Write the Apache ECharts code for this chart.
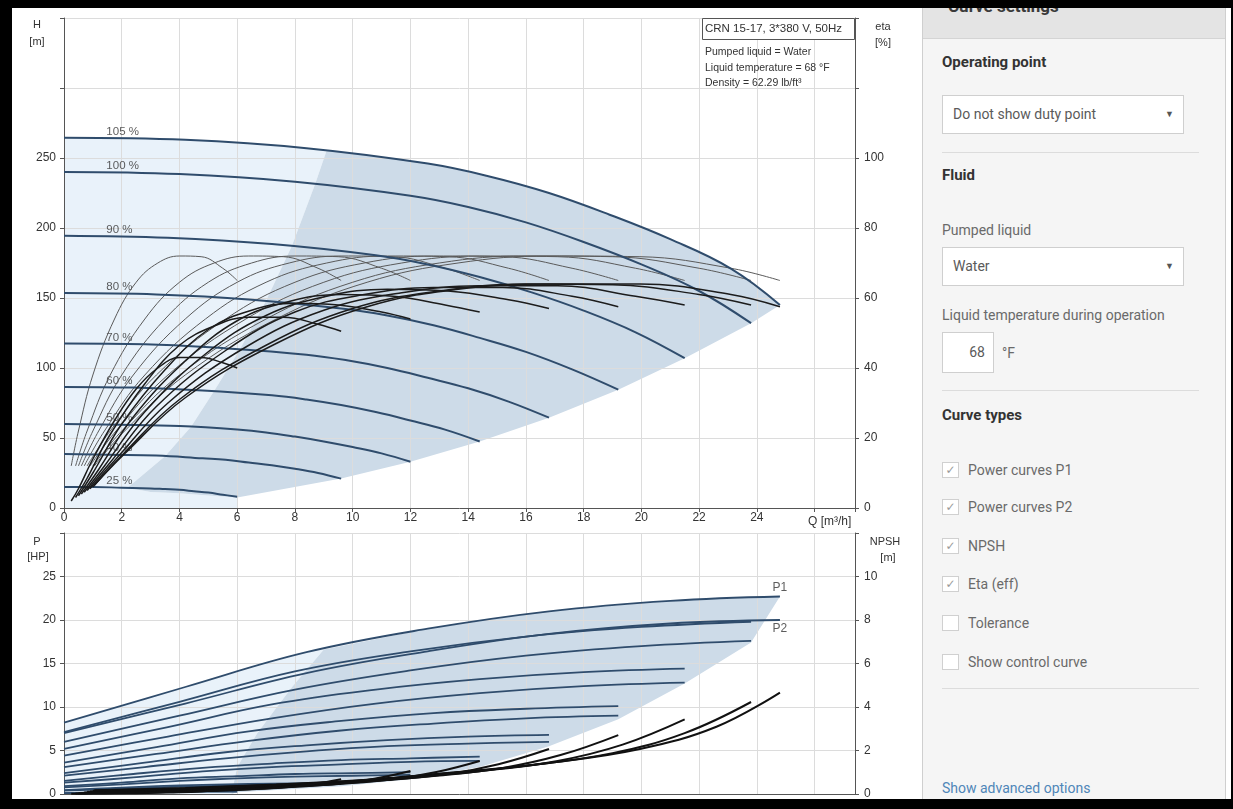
<!DOCTYPE html>
<html>
<head>
<meta charset="utf-8">
<title>CRN 15-17 pump curves</title>
<script src="https://cdn.jsdelivr.net/npm/echarts/dist/echarts.min.js"></script>
<style>
  html, body { margin: 0; padding: 0; background: #000; width: 1233px; height: 809px; overflow: hidden; }
  #page { position: absolute; left: 12px; top: 8px; width: 1219px; height: 791px; background: #fff; overflow: hidden; }
  #chart { position: absolute; left: 0; top: 0; width: 920px; height: 809px; }
  #panel { position: absolute; left: 910px; top: 0; width: 302px; height: 791px; background: #f5f5f5;
           border-left: 1px solid #cfcfcf; border-right: 1px solid #cfcfcf; font-family: Roboto, "Liberation Sans", Arial, sans-serif; }
  #panel .abs { position: absolute; white-space: nowrap; }
  .head { position: absolute; left: 0; top: 0; width: 302px; height: 30px; background: #e4e4e4; border-bottom: 1px solid #d4d4d4; }
  .title { font-size: 17px; font-weight: bold; color: #3a3a3a; line-height: 20px; }
  .h { font-size: 15px; font-weight: bold; color: #333; line-height: 20px; left: 19px; }
  .lbl { font-size: 14px; color: #6a6a6a; line-height: 20px; left: 19px; }
  .sel { left: 19px; width: 242px; height: 39px; box-sizing: border-box; border: 1px solid #cfcfcf; background: #fff;
         font-size: 14px; color: #5a5a5a; line-height: 37px; padding-left: 10px; }
  .sel .arr { position: absolute; right: 9px; top: 0; font-size: 9px; color: #555; }
  .rule { left: 19px; width: 257px; height: 1px; background: #dcdcdc; }
  .box { left: 19px; width: 17px; height: 16px; box-sizing: border-box; border: 1px solid #d0d0d0; background: #fff;
         font-size: 12px; color: #9a9a9a; line-height: 14px; text-align: center; font-family: "DejaVu Sans", sans-serif; }
  .cb { left: 45px; font-size: 14px; color: #6a6a6a; line-height: 20px; }
</style>
</head>
<body>
<div id="page">
  <div id="panel">
    <div class="head"></div>
    <div class="abs title" style="left:25px; top:-12px;">Curve settings</div>

    <div class="abs h" style="top:44px;">Operating point</div>
    <div class="abs sel" style="top:87px;">Do not show duty point<span class="arr">&#9660;</span></div>
    <div class="abs rule" style="top:144px;"></div>

    <div class="abs h" style="top:157px;">Fluid</div>
    <div class="abs lbl" style="top:212px;">Pumped liquid</div>
    <div class="abs sel" style="top:239px;">Water<span class="arr">&#9660;</span></div>
    <div class="abs lbl" style="top:297px;">Liquid temperature during operation</div>
    <div class="abs" style="left:19px; top:324px; width:52px; height:41px; box-sizing:border-box; border:1px solid #cfcfcf; background:#fff; font-size:14px; color:#5a5a5a; line-height:39px; text-align:right; padding-right:8px;">68</div>
    <div class="abs lbl" style="left:79px; top:335px;">&deg;F</div>
    <div class="abs rule" style="top:382px;"></div>

    <div class="abs h" style="top:397px;">Curve types</div>
    <div class="abs box" style="top:454px;">&#10003;</div><div class="abs cb" style="top:452px;">Power curves P1</div>
    <div class="abs box" style="top:491px;">&#10003;</div><div class="abs cb" style="top:489px;">Power curves P2</div>
    <div class="abs box" style="top:530px;">&#10003;</div><div class="abs cb" style="top:528px;">NPSH</div>
    <div class="abs box" style="top:568px;">&#10003;</div><div class="abs cb" style="top:566px;">Eta (eff)</div>
    <div class="abs box" style="top:607px;"></div><div class="abs cb" style="top:605px;">Tolerance</div>
    <div class="abs box" style="top:646px;"></div><div class="abs cb" style="top:644px;">Show control curve</div>
    <div class="abs rule" style="top:680px;"></div>

    <div class="abs lbl" style="top:770px; color:#4f86b8;">Show advanced options</div>
  </div>
</div>
<div id="chart"></div>
<script>
// Pump speeds, highest first
const speedLabels = ['105 %', '100 %', '90 %', '80 %', '70 %', '60 %', '50 %', '40 %', '25 %'];

// Q-H curves: flow [m3/h] and head [m] per speed
const headQ = [
  [0, 4.2, 8.4, 12.6, 14.7, 16.8, 18.9, 21, 23.1, 24.8],
  [0, 4, 8, 12, 14, 16, 18, 20, 22, 23.8],
  [0, 3.6, 7.2, 10.8, 12.6, 14.4, 16.2, 18, 19.8, 21.5],
  [0, 3.2, 6.4, 9.6, 11.2, 12.8, 14.4, 16, 17.6, 19.2],
  [0, 2.8, 5.6, 8.4, 9.8, 11.2, 12.6, 14, 15.4, 16.8],
  [0, 2.4, 4.8, 7.2, 8.4, 9.6, 10.8, 12, 13.2, 14.4],
  [0, 2, 4, 6, 7, 8, 9, 10, 11, 12],
  [0, 1.6, 3.2, 4.8, 5.6, 6.4, 7.2, 8, 8.8, 9.6],
  [0, 1, 2, 3, 3.5, 4, 4.5, 5, 5.5, 6]
];
const headH = [
  [264.5, 263, 257, 246, 237, 225, 209.5, 192, 171, 145],
  [240, 238.5, 233, 223, 215, 204, 190, 174, 155, 132],
  [194.5, 193, 188.5, 180.5, 174, 165, 154, 141, 125.5, 107],
  [153.5, 152.5, 149, 142.5, 137.5, 130.5, 121.5, 111.5, 99, 84.5],
  [117.5, 117, 114, 109.5, 105.5, 100, 93, 85.5, 76, 64.5],
  [86.5, 86, 84, 80.5, 77.5, 73.5, 68.5, 62.5, 56, 47.5],
  [60, 59.5, 58.5, 56, 54, 51, 47.5, 43.5, 39, 33],
  [38.5, 38, 37.5, 35.5, 34.5, 32.5, 30.5, 28, 25, 21],
  [15, 15, 14.5, 14, 13.5, 13, 12, 11, 9.5, 8]
];

// Efficiency curves: flow per speed, pump eta (same at every speed) and total eta [%]
const etaQ = [
  [1.05, 2.1, 4.2, 7.35, 10.5, 13.65, 16.8, 19.95, 23.1, 24.8],
  [1, 2, 4, 7, 10, 13, 16, 19, 22, 23.8],
  [0.9, 1.8, 3.6, 6.3, 9, 11.7, 14.4, 17.1, 19.8, 21.5],
  [0.8, 1.6, 3.2, 5.6, 8, 10.4, 12.8, 15.2, 17.6, 19.2],
  [0.7, 1.4, 2.8, 4.9, 7, 9.1, 11.2, 13.3, 15.4, 16.8],
  [0.6, 1.2, 2.4, 4.2, 6, 7.8, 9.6, 11.4, 13.2, 14.4],
  [0.5, 1, 2, 3.5, 5, 6.5, 8, 9.5, 11, 12],
  [0.4, 0.8, 1.6, 2.8, 4, 5.2, 6.4, 7.6, 8.8, 9.6],
  [0.25, 0.5, 1, 1.75, 2.5, 3.25, 4, 4.75, 5.5, 6]
];
const pumpEta = [12, 22, 38, 54, 64.5, 70, 72, 71.8, 68.5, 65];
const totalEta = [
  [6.5, 15.5, 31.5, 47, 57.5, 62.5, 64, 64, 61, 57.5],
  [6, 15, 31, 46.5, 57, 62, 64, 63.8, 61, 58],
  [5.5, 14, 30, 46, 56.5, 61.5, 63.5, 63.5, 60.5, 58],
  [5, 13, 29, 45, 56, 61, 63, 63, 60.5, 57.5],
  [4.5, 12, 27.5, 44, 55, 60.5, 62.5, 62, 59.5, 57],
  [4, 11, 26, 42, 53.5, 59, 61, 60.5, 58, 56],
  [3.5, 10, 24, 39.5, 51, 56.5, 58.5, 58, 56, 54],
  [3, 8.5, 21, 35.5, 46.5, 52, 54.5, 54.5, 52.5, 50.5],
  [2, 5.5, 14, 25, 34, 40, 43, 43, 41.5, 40]
];

// Power curves: flow per speed, P1 and P2 [HP]
const powerQ = [
  [0, 4.2, 8.4, 12.6, 16.8, 21, 24.8],
  [0, 4, 8, 12, 16, 20, 23.8],
  [0, 3.6, 7.2, 10.8, 14.4, 18, 21.5],
  [0, 3.2, 6.4, 9.6, 12.8, 16, 19.2],
  [0, 2.8, 5.6, 8.4, 11.2, 14, 16.8],
  [0, 2.4, 4.8, 7.2, 9.6, 12, 14.4],
  [0, 2, 4, 6, 8, 10, 12],
  [0, 1.6, 3.2, 4.8, 6.4, 8, 9.6],
  [0, 1, 2, 3, 4, 5, 6]
];
const powerP1 = [
  [8.2, 12.3, 16.3, 19.0, 21.0, 22.2, 22.7],
  [7.1, 10.6, 14.1, 16.4, 18.1, 19.2, 19.8],
  [5.2, 7.7, 10.3, 12.0, 13.2, 14.0, 14.4],
  [3.6, 5.4, 7.2, 8.4, 9.3, 9.8, 10.1],
  [2.4, 3.6, 4.8, 5.6, 6.2, 6.6, 6.8],
  [1.5, 2.3, 3.0, 3.5, 3.9, 4.1, 4.3],
  [0.9, 1.3, 1.8, 2.05, 2.3, 2.4, 2.5],
  [0.45, 0.68, 0.9, 1.05, 1.16, 1.23, 1.27],
  [0.11, 0.17, 0.22, 0.26, 0.28, 0.30, 0.31]
];
const powerP2 = [
  [7.0, 10.4, 13.9, 16.4, 18.4, 19.6, 20.0],
  [6.0, 9.0, 12.0, 14.2, 15.9, 17.0, 17.6],
  [4.4, 6.6, 8.7, 10.4, 11.6, 12.4, 12.8],
  [3.1, 4.6, 6.1, 7.3, 8.1, 8.7, 9.0],
  [2.1, 3.1, 4.1, 4.9, 5.5, 5.8, 6.0],
  [1.3, 1.9, 2.6, 3.1, 3.4, 3.7, 3.8],
  [0.75, 1.1, 1.5, 1.8, 2.0, 2.1, 2.2],
  [0.38, 0.58, 0.77, 0.91, 1.02, 1.09, 1.13],
  [0.09, 0.14, 0.19, 0.22, 0.25, 0.27, 0.27]
];

// NPSH curves: flow per speed and NPSH [m]
const npshQ = [
  [1.05, 4.2, 7.35, 10.5, 13.65, 16.8, 19.95, 22.6, 24.8],
  [1, 4, 7, 10, 13, 16, 19, 21.5, 23.8],
  [0.9, 3.6, 6.3, 9, 11.7, 14.4, 17.1, 19.35, 21.5],
  [0.8, 3.2, 5.6, 8, 10.4, 12.8, 15.2, 17.2, 19.2],
  [0.7, 2.8, 4.9, 7, 9.1, 11.2, 13.3, 15.05, 16.8],
  [0.6, 2.4, 4.2, 6, 7.8, 9.6, 11.4, 12.9, 14.4],
  [0.5, 2, 3.5, 5, 6.5, 8, 9.5, 10.75, 12],
  [0.4, 1.6, 2.8, 4, 5.2, 6.4, 7.6, 8.6, 9.6],
  [0.25, 1, 1.75, 2.5, 3.25, 4, 4.75, 5.4, 6]
];
const npshM = [
  [0.17, 0.28, 0.44, 0.66, 1.01, 1.43, 2.07, 3.09, 4.66],
  [0.15, 0.25, 0.4, 0.6, 0.92, 1.3, 1.88, 2.8, 4.23],
  [0.12, 0.2, 0.32, 0.49, 0.75, 1.05, 1.52, 2.27, 3.43],
  [0.1, 0.16, 0.26, 0.38, 0.59, 0.83, 1.2, 1.79, 2.71],
  [0.07, 0.12, 0.2, 0.29, 0.45, 0.64, 0.92, 1.37, 2.07],
  [0.05, 0.09, 0.14, 0.22, 0.33, 0.47, 0.68, 1.01, 1.52],
  [0.04, 0.06, 0.1, 0.15, 0.23, 0.33, 0.47, 0.7, 1.06],
  [0.02, 0.04, 0.06, 0.1, 0.15, 0.21, 0.3, 0.45, 0.68],
  [0.01, 0.02, 0.03, 0.04, 0.06, 0.08, 0.12, 0.18, 0.26]
];

// Operating ranges: [Q, H] and [Q, P] outlines
const dutyAreaH = [[2.2, 14.5], [3.5, 37], [4.4, 58], [5.2, 83.5], [6.1, 113.5], [7.0, 148], [7.9, 187.5], [8.7, 231.5],
  [9.1, 255.5], [12.6, 246], [14.7, 237], [16.8, 225], [18.9, 209.5], [21, 192], [23.1, 171], [24.8, 145],
  [23.8, 132], [21.5, 107], [19.2, 84.5], [16.8, 64.5], [14.4, 47.5], [12, 33], [9.6, 21], [6, 7.5],
  [5, 9], [4, 10.5], [3, 11.5]];
const lightAreaH = [[0, 0], [0, 264.5], [4.2, 263], [8.4, 257], [9.1, 255.5], [8.7, 231.5], [7.9, 187.5], [7.0, 148],
  [6.1, 113.5], [5.2, 83.5], [4.4, 58], [3.5, 37], [2.2, 14.5], [3, 11.5], [4, 10.5], [5, 9], [6, 7.5], [6, 0]];
const dutyAreaP = [[5.8, 0], [6.0, 3.1], [6.7, 7.0], [7.9, 12.3], [9.0, 16.6], [12.6, 19.0], [16.8, 21.0], [21, 22.2],
  [24.8, 22.7], [23.8, 17.4], [21.5, 12.7], [19.2, 8.6], [16.8, 5.5], [14.4, 3.1], [12, 1.7], [9.6, 0.9], [6, 0.2]];
const lightAreaP = [[0, 0], [0, 8.2], [4.2, 12.3], [8.4, 16.3], [9.0, 16.6], [7.9, 12.3], [6.7, 7.0], [6.0, 3.1], [5.8, 0]];

// Axis ranges and the highest labelled tick
const qMax = 27.4, qLabelMax = 24;
const hMax = 350, hLabelMax = 250;
const etaMax = 140, etaLabelMax = 100;
const pMax = 30, pLabelMax = 25;
const npshMax = 12, npshLabelMax = 10;

const FONT = '"Liberation Sans", Arial, sans-serif';
const GRID_C = '#dcdcdc', AXIS_C = '#555', TXT_C = '#333';
const HEAD_C = '#2f4c6c', POWER_C = '#2f4c6c';

const zip = (xs, ys) => xs.map((x, i) => [x, ys[i]]);

function polygonSeries(points, fill, xi, yi) {
  return {
    type: 'custom', xAxisIndex: xi, yAxisIndex: yi, z: -1, silent: true, clip: false,
    data: [[0, 0]],
    renderItem: (params, api) => ({
      type: 'polygon',
      shape: { points: points.map(p => api.coord(p)) },
      style: { fill: fill }
    })
  };
}

function lineSeries(data, xi, yi, color, width) {
  return {
    type: 'line', xAxisIndex: xi, yAxisIndex: yi, data: data, smooth: 0.4,
    symbol: 'none', silent: true, lineStyle: { color: color, width: width }
  };
}

const series = [
  polygonSeries(lightAreaH, '#e9f2fa', 0, 0),
  polygonSeries(dutyAreaH, '#cddbe8', 0, 0),
  polygonSeries(lightAreaP, '#e9f2fa', 1, 2),
  polygonSeries(dutyAreaP, '#cddbe8', 1, 2)
];

speedLabels.forEach((s, i) => {
  series.push(lineSeries(zip(etaQ[i], pumpEta), 0, 1, '#5a5a5a', 1));
});
speedLabels.forEach((s, i) => {
  series.push(lineSeries(zip(headQ[i], headH[i]), 0, 0, HEAD_C, 2));
});
speedLabels.forEach((s, i) => {
  series.push(lineSeries(zip(etaQ[i], totalEta[i]), 0, 1, '#1c1c1c', 1.5));
});
speedLabels.forEach((s, i) => {
  series.push(lineSeries(zip(powerQ[i], powerP1[i]), 1, 2, POWER_C, 1.8));
  series.push(lineSeries(zip(powerQ[i], powerP2[i]), 1, 2, POWER_C, 1.8));
});
speedLabels.forEach((s, i) => {
  series.push(lineSeries(zip(npshQ[i], npshM[i]), 1, 3, '#111', 2));
});

// Speed labels just above the start of each Q-H curve
series.push({
  type: 'scatter', xAxisIndex: 0, yAxisIndex: 0, symbolSize: 1, silent: true,
  itemStyle: { color: 'rgba(0,0,0,0)' },
  data: speedLabels.map((s, i) => ({ name: s, value: [1.45, headH[i][0]] })),
  label: { show: true, formatter: '{b}', position: 'right', distance: 0, offset: [0, -6],
           color: TXT_C, fontSize: 11.5, fontFamily: FONT }
});

// P1 / P2 tags at the end of the top power curves
const last = a => a[a.length - 1];
series.push({
  type: 'scatter', xAxisIndex: 1, yAxisIndex: 2, symbolSize: 1, silent: true,
  itemStyle: { color: 'rgba(0,0,0,0)' },
  data: [
    { name: 'P1', value: [last(powerQ[0]), last(powerP1[0])], label: { position: 'top', distance: 2 } },
    { name: 'P2', value: [last(powerQ[0]), last(powerP2[0])], label: { position: 'bottom', distance: 2 } }
  ],
  label: { show: true, formatter: '{b}', color: TXT_C, fontSize: 12, fontFamily: FONT }
});

function valueAxis(extra) {
  return Object.assign({
    type: 'value',
    axisLine: { show: true, onZero: false, lineStyle: { color: AXIS_C, width: 1 } },
    axisTick: { show: true, length: 4, lineStyle: { color: AXIS_C } },
    axisLabel: { color: TXT_C, fontSize: 12, fontFamily: FONT },
    splitLine: { show: true, lineStyle: { color: GRID_C, width: 1 } }
  }, extra);
}
const upTo = (lim) => (v) => (v <= lim + 1e-9 ? String(v) : '');

function gText(text, x, y, size, align) {
  return {
    type: 'text', x: x, y: y, z: 100, silent: true,
    style: { text: text, fill: TXT_C, fontSize: size, fontFamily: FONT,
             align: align || 'left', textAlign: align || 'left',
             verticalAlign: 'middle', textVerticalAlign: 'middle' }
  };
}

const chart = echarts.init(document.getElementById('chart'), null, { renderer: 'canvas' });
chart.setOption({
  animation: false,
  textStyle: { fontFamily: FONT },
  grid: [
    { left: 64, top: 18, width: 791, height: 490, outerBoundsMode: 'none', containLabel: false },
    { left: 64, top: 533, width: 791, height: 261, outerBoundsMode: 'none', containLabel: false }
  ],
  xAxis: [
    valueAxis({ gridIndex: 0, min: 0, max: qMax, interval: 2,
      axisLabel: { color: TXT_C, fontSize: 12, fontFamily: FONT, margin: 4, formatter: upTo(qLabelMax) } }),
    valueAxis({ gridIndex: 1, min: 0, max: qMax, interval: 2,
      axisLabel: { show: false }, axisTick: { show: false } })
  ],
  yAxis: [
    valueAxis({ gridIndex: 0, position: 'left', min: 0, max: hMax, interval: 50,
      axisLabel: { color: TXT_C, fontSize: 12, fontFamily: FONT, margin: 8, formatter: upTo(hLabelMax) } }),
    valueAxis({ gridIndex: 0, position: 'right', min: 0, max: etaMax, interval: 20, splitLine: { show: false },
      axisLabel: { color: TXT_C, fontSize: 12, fontFamily: FONT, margin: 9, formatter: upTo(etaLabelMax) } }),
    valueAxis({ gridIndex: 1, position: 'left', min: 0, max: pMax, interval: 5,
      axisLabel: { color: TXT_C, fontSize: 12, fontFamily: FONT, margin: 8, formatter: upTo(pLabelMax) } }),
    valueAxis({ gridIndex: 1, position: 'right', min: 0, max: npshMax, interval: 2, splitLine: { show: false },
      axisLabel: { color: TXT_C, fontSize: 12, fontFamily: FONT, margin: 9, formatter: upTo(npshLabelMax) } })
  ],
  graphic: [
    { type: 'rect', z: 100, silent: true, shape: { x: 702.5, y: 18.5, width: 152, height: 21 },
      style: { fill: '#fff', stroke: '#555', lineWidth: 1 } },
    gText('CRN 15-17, 3*380 V, 50Hz', 705, 29, 11.5),
    gText('Pumped liquid = Water', 705, 52, 10.5),
    gText('Liquid temperature = 68 \u00B0F', 705, 68, 10.5),
    gText('Density = 62.29 lb/ft\u00B3', 705, 83, 10.5),
    gText('H', 37, 25, 11, 'center'),
    gText('[m]', 37, 42, 11, 'center'),
    gText('eta', 883, 27, 11, 'center'),
    gText('[%]', 883, 43, 11, 'center'),
    gText('Q [m\u00B3/h]', 808, 522, 12),
    gText('P', 37, 542, 11, 'center'),
    gText('[HP]', 38, 557, 11, 'center'),
    gText('NPSH', 885, 542, 11, 'center'),
    gText('[m]', 888, 558, 11, 'center')
  ],
  series: series
});
</script>
</body>
</html>
